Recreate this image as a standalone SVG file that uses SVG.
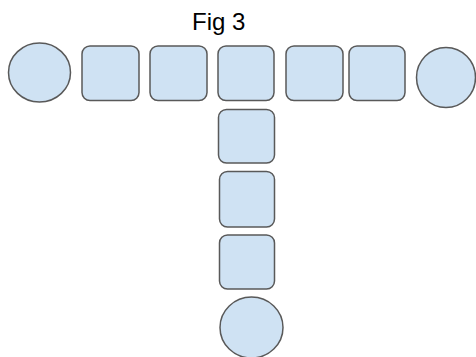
<svg xmlns="http://www.w3.org/2000/svg" width="476" height="357" viewBox="0 0 476 357">
<style>
.n{fill:#cfe2f3;stroke:#595959;stroke-width:1.5}
.t{font-family:"Liberation Sans",Arial,sans-serif;font-size:24px;fill:#000}
</style>
<rect width="476" height="357" fill="#fff"/>
<text class="t" x="192" y="30">Fig 3</text>
<g id="c1"><ellipse class="n" cx="39.5" cy="72.5" rx="31" ry="29.5"/></g>
<g id="r1"><rect class="n" x="82" y="46" width="57" height="54.5" rx="8"/></g>
<g id="r2"><rect class="n" x="150" y="46" width="57" height="54.5" rx="8"/></g>
<g id="r3"><rect class="n" x="218" y="46" width="56" height="54.5" rx="8"/></g>
<g id="r4"><rect class="n" x="286" y="46" width="57" height="54.5" rx="8"/></g>
<g id="r5"><rect class="n" x="349" y="46" width="56" height="54.5" rx="8"/></g>
<g id="c2"><ellipse class="n" cx="446" cy="77.5" rx="29.5" ry="30"/></g>
<g id="r6"><rect class="n" x="218.5" y="109.5" width="56" height="53.5" rx="8"/></g>
<g id="r7"><rect class="n" x="219.5" y="171.5" width="55" height="55.5" rx="8"/></g>
<g id="r8"><rect class="n" x="219.5" y="235" width="55" height="54" rx="8"/></g>
<g id="c3"><ellipse class="n" cx="251.5" cy="327.5" rx="31.5" ry="30.5"/></g>
<g id="connectors"></g>
</svg>
